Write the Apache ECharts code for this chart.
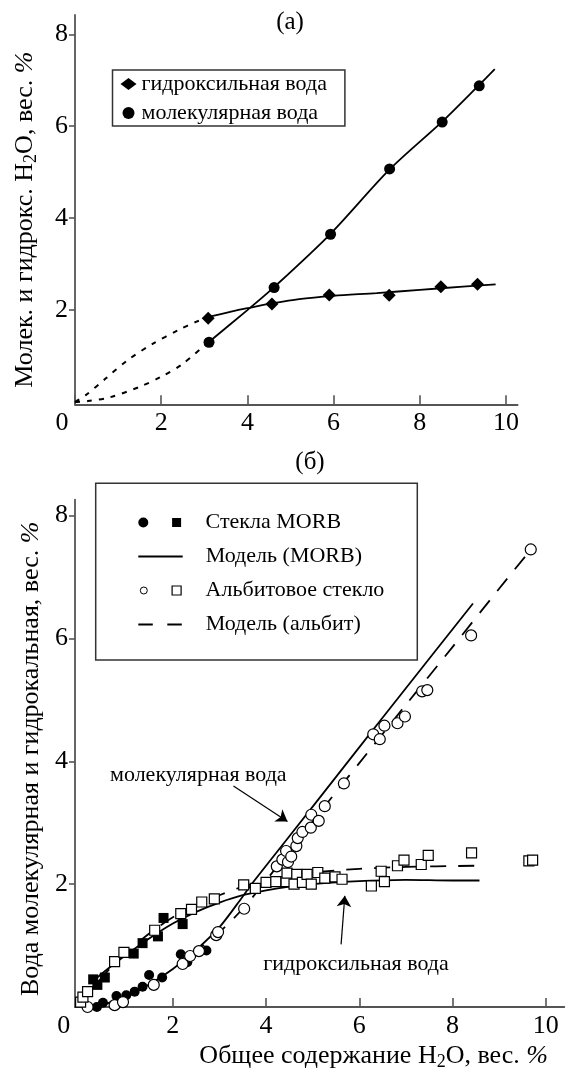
<!DOCTYPE html>
<html><head><meta charset="utf-8">
<script src="https://cdn.jsdelivr.net/npm/echarts@6/dist/echarts.min.js"></script>
<style>html,body{margin:0;padding:0;background:#fff}#c{width:569px;height:1072px}</style>
</head><body><div id="c"></div>
<script>
// ---------- Panel (а) ----------
const aTicksX = [0, 2, 4, 6, 8, 10];
const aTicksY = [2, 4, 6, 8];
const aHydroxyl = [[3.09,1.82],[4.57,2.13],[5.90,2.33],[7.29,2.32],[8.49,2.51],[9.34,2.56]];
const aMolecular = [[3.11,1.30],[4.62,2.49],[5.93,3.65],[7.30,5.07],[8.52,6.09],[9.38,6.88]];
const aHydroxylFit = [[3.1,1.85],[3.6,1.96],[4.0,2.04],[4.6,2.15],[5.2,2.24],[6.0,2.31],[7.0,2.37],[8.0,2.44],[9.0,2.51],[9.76,2.56]];
const aMolecularFit = [[3.1,1.30],[4.0,2.0],[4.62,2.5],[5.93,3.66],[7.3,5.06],[8.52,6.1],[9.38,6.9],[9.74,7.24]];
const aHydroxylExtrap = [[0,0],[0.25,0.15],[0.71,0.51],[1.22,0.91],[1.81,1.27],[2.39,1.56],[2.82,1.75],[3.05,1.82]];
const aMolecularExtrap = [[0,0],[0.3,0.02],[0.8,0.1],[1.5,0.33],[2.0,0.55],[2.5,0.83],[3.05,1.27]];

// ---------- Panel (б) ----------
const bTicksX = [0, 2, 4, 6, 8, 10];
const bTicksY = [2, 4, 6, 8];
const bMorbMol = [[0.37,0.0],[0.50,0.07],[0.79,0.18],[1.00,0.19],[1.18,0.25],[1.35,0.33],[1.49,0.52],[1.77,0.48],[2.17,0.86],[2.31,0.73],[2.72,0.92]];
const bMorbOH = [[0.29,0.45],[0.38,0.36],[0.54,0.48],[1.16,0.87],[1.35,1.04],[1.68,1.15],[1.80,1.45],[2.21,1.35]];
const bAlbMol = [[0.17,0.0],[0.75,0.03],[0.93,0.08],[1.59,0.36],[2.21,0.70],[2.37,0.83],[2.56,0.91],[2.93,1.17],[2.97,1.22],[3.53,1.60],
  [4.23,2.29],[4.35,2.40],[4.47,2.36],[4.43,2.54],[4.54,2.45],[4.65,2.62],[4.68,2.75],[4.78,2.85],[4.96,2.92],[4.97,3.13],
  [5.13,3.03],[5.26,3.27],[5.67,3.64],[6.30,4.44],[6.44,4.36],[6.54,4.58],[6.82,4.62],[6.98,4.73],[7.35,5.14],[7.46,5.16],
  [8.40,6.05],[9.68,7.45]];
const bAlbOH = [[0.02,0.08],[0.07,0.16],[0.17,0.25],[0.75,0.74],[0.95,0.89],[1.61,1.25],[2.17,1.52],[2.40,1.59],[2.62,1.71],[2.89,1.76],
  [3.52,1.99],[3.77,1.93],[4.00,2.03],[4.21,2.04],[4.43,2.04],[4.45,2.18],[4.66,2.16],[4.60,2.00],[4.78,2.03],[4.88,2.16],
  [4.97,2.00],[5.11,2.19],[5.26,2.10],[5.48,2.12],[5.63,2.08],[6.26,1.97],[6.47,2.21],[6.54,2.04],[6.82,2.30],[6.96,2.39],
  [7.33,2.32],[7.48,2.47],[8.41,2.51],[9.64,2.38],[9.72,2.39]];
const bMorbMolModel = [[0.35,0.0],[0.6,0.06],[1.0,0.17],[1.5,0.37],[2.0,0.62],[2.5,0.93],[3.0,1.3],[3.5,1.8],[3.69,2.0],[4.5,2.78],[5.94,4.17],[7.0,5.19],[8.44,6.57]];
const bMorbOHModel = [[0.28,0.42],[0.6,0.62],[1.0,0.85],[1.5,1.12],[2.0,1.36],[2.5,1.55],[3.0,1.7],[3.5,1.82],[4.0,1.9],[4.5,1.96],[5.0,2.0],[5.5,2.03],[6.0,2.05],[7.0,2.07],[8.0,2.06],[8.58,2.06]];
const bAlbMolModel = [[2.4,0.85],[3.0,1.22],[3.5,1.6],[4.0,2.06],[4.5,2.55],[5.0,3.02],[5.5,3.5],[6.0,3.97],[7.0,4.92],[8.0,5.86],[9.0,6.81],[9.62,7.39]];
const bAlbOHModel = [[0.05,0.05],[0.5,0.5],[1.0,0.88],[1.5,1.2],[2.0,1.46],[2.5,1.66],[3.0,1.82],[3.5,1.96],[4.0,2.06],[4.5,2.14],[5.0,2.19],[6.0,2.25],[7.0,2.28],[8.5,2.3]];
const bArrowMol = [[3.30,3.60],[4.46,3.02]];
const bArrowOH = [[5.61,1.02],[5.69,1.81]];

const FONT = '"Liberation Serif", "Times New Roman", serif';
const AX = '#555';

function xAxisCfg(grid, min, max, ticks, zeroPad, extra) {
  return Object.assign({
    type: 'value', gridIndex: grid, min: min, max: max,
    axisLine: { show: true, onZero: false, lineStyle: { color: AX, width: 1.8 } },
    axisTick: { show: true, inside: true, length: 9, customValues: ticks, lineStyle: { color: AX, width: 1.6 } },
    axisLabel: { customValues: ticks, margin: 6, fontFamily: FONT, fontSize: 26, color: '#000',
      formatter: v => (v === 0 ? '{z|0}' : String(v)),
      rich: { z: { fontFamily: FONT, fontSize: 26, color: '#000', padding: [0, zeroPad, 0, 0] } } },
    splitLine: { show: false }
  }, extra || {});
}
function yAxisCfg(grid, min, max, ticks, extra) {
  return Object.assign({
    type: 'value', gridIndex: grid, min: min, max: max,
    axisLine: { show: true, onZero: false, lineStyle: { color: AX, width: 1.8 } },
    axisTick: { show: true, inside: false, length: 6, customValues: ticks, lineStyle: { color: AX, width: 1.6 } },
    axisLabel: { customValues: ticks, margin: 7, fontFamily: FONT, fontSize: 26, color: '#000' },
    splitLine: { show: false }
  }, extra || {});
}
const richName = {
  s: { fontFamily: FONT, fontSize: 18, color: '#000', padding: [12, 0, 0, 0] },
  i: { fontFamily: FONT, fontSize: 26, color: '#000', fontStyle: 'italic' }
};

const lineBase = (name, data, xi, type, extra) => Object.assign({
  name: name, type: 'line', xAxisIndex: xi, yAxisIndex: xi, data: data,
  symbol: 'none', smooth: 0.3, z: 2, silent: true,
  lineStyle: { color: '#000', width: 1.8, type: type },
  itemStyle: { color: '#000' }
}, extra || {});
const scat = (name, data, xi, symbol, size, filled, extra) => Object.assign({
  name: name, type: 'scatter', xAxisIndex: xi, yAxisIndex: xi, data: data,
  symbol: symbol, symbolSize: size, z: 4, silent: true,
  itemStyle: filled ? { color: '#000', opacity: 1 } : { color: '#fff', borderColor: '#000', borderWidth: 1.2, opacity: 1 }
}, extra || {});

const legendText = { fontFamily: FONT, fontSize: 22, color: '#000', lineHeight: 22 };

const option = {
  animation: false,
  backgroundColor: '#fff',
  grid: [
    { left: 75, top: 15, width: 442.6, height: 389.3 },
    { left: 75, top: 499.7, width: 489.3, height: 511.6 }
  ],
  xAxis: [
    xAxisCfg(0, 0, 10.27, aTicksX, 26),
    xAxisCfg(1, -0.1, 10.4, bTicksX, 32, {
      name: 'Общее содержание H{s|2}O, вес. {i|%}', nameLocation: 'middle', nameGap: 34,
      nameTextStyle: { fontFamily: FONT, fontSize: 26, color: '#000', padding: [0, 0, 0, 108], rich: richName }
    })
  ],
  yAxis: [
    yAxisCfg(0, -0.05, 8.42, aTicksY, {
      name: 'Молек. и гидрокс. H{s|2}O, вес. {i|%}', nameLocation: 'middle', nameGap: 35,
      nameTextStyle: { fontFamily: FONT, fontSize: 26, color: '#000', padding: [0, 20, 0, 0], rich: richName }
    }),
    yAxisCfg(1, 0, 8.26, bTicksY, {
      name: 'Вода молекулярная и гидрокальная, вес. {i|%}', nameLocation: 'middle', nameGap: 31,
      nameTextStyle: { fontFamily: FONT, fontSize: 26, color: '#000', padding: [0, 11, 0, 0], rich: richName }
    })
  ],
  legend: [
    { data: ['гидроксильная вода', 'молекулярная вода'], orient: 'vertical', left: 112.5, top: 70,
      itemWidth: 16, itemHeight: 12, itemGap: 7, padding: [3, 18, 2, 8], selectedMode: false,
      borderColor: '#333', borderWidth: 1.5, textStyle: legendText },
    { data: ['morbMol'], orient: 'vertical', left: 138.3, top: 511.5, itemWidth: 10, itemHeight: 10,
      padding: 0, selectedMode: false, formatter: () => ' ', textStyle: legendText },
    { data: ['albMol'], orient: 'vertical', left: 139.8, top: 579.5, itemWidth: 7, itemHeight: 7,
      padding: 0, selectedMode: false, formatter: () => ' ', textStyle: legendText,
      itemStyle: { borderWidth: 1 } },
    { data: ['Стекла MORB', 'Альбитовое стекло'], orient: 'vertical', left: 171.5, top: 511.5,
      itemWidth: 9, itemHeight: 9, itemGap: 46, padding: 0, selectedMode: false,
      textStyle: Object.assign({ padding: [0, 0, 0, 19.5] }, legendText),
      itemStyle: { borderWidth: 1.2 } },
    { data: ['Модель (MORB)', { name: 'Модель (альбит)', lineStyle: { type: [14.5, 14.5] } }],
      orient: 'vertical', left: 137.3, top: 545.5,
      itemWidth: 44.4, itemHeight: 9, itemGap: 46, padding: 0, selectedMode: false,
      textStyle: Object.assign({ padding: [0, 0, 0, 18] }, legendText),
      itemStyle: { color: 'rgba(0,0,0,0)', borderWidth: 0, opacity: 0 } }
  ],
  graphic: [
    { type: 'rect', shape: { x: 95.7, y: 483.3, width: 321.6, height: 176.7 },
      style: { fill: 'none', stroke: '#333', lineWidth: 1.5 }, z: 1, silent: true },
    { type: 'text', x: 290, y: 22, style: { text: '(а)', font: '25px ' + FONT, fill: '#000', textAlign: 'center', textVerticalAlign: 'middle' } },
    { type: 'text', x: 310, y: 462, style: { text: '(б)', font: '25px ' + FONT, fill: '#000', textAlign: 'center', textVerticalAlign: 'middle' } },
    { type: 'text', x: 110, y: 775, style: { text: 'молекулярная вода', font: '22px ' + FONT, fill: '#000', textAlign: 'left', textVerticalAlign: 'middle' } },
    { type: 'text', x: 356, y: 964, style: { text: 'гидроксильная вода', font: '22px ' + FONT, fill: '#000', textAlign: 'center', textVerticalAlign: 'middle' } }
  ],
  series: [
    lineBase('aOHfit', aHydroxylFit, 0, 'solid'),
    lineBase('aMolfit', aMolecularFit, 0, 'solid'),
    lineBase('aOHext', aHydroxylExtrap, 0, [5, 7], { lineStyle: { color: '#000', width: 2, type: [5, 7] } }),
    lineBase('aMolext', aMolecularExtrap, 0, [5, 7], { lineStyle: { color: '#000', width: 2, type: [5, 7] } }),
    scat('гидроксильная вода', aHydroxyl, 0, 'diamond', 13, true),
    scat('молекулярная вода', aMolecular, 0, 'circle', 11, true),

    lineBase('Модель (MORB)', bMorbMolModel, 1, 'solid'),
    lineBase('bMorbOHModel', bMorbOHModel, 1, 'solid', {
      markLine: {
        silent: true, animation: false, symbol: ['none', 'arrow'], symbolSize: 11,
        lineStyle: { color: '#000', width: 1.2, type: 'solid' }, label: { show: false },
        data: [
          [{ coord: bArrowMol[0] }, { coord: bArrowMol[1] }],
          [{ coord: bArrowOH[0] }, { coord: bArrowOH[1] }]
        ]
      }
    }),
    lineBase('Модель (альбит)', bAlbMolModel, 1, [16, 12]),
    lineBase('bAlbOHModel', bAlbOHModel, 1, [16, 12]),
    scat('morbMol', bMorbMol, 1, 'circle', 10, true),
    scat('Стекла MORB', bMorbOH, 1, 'rect', 10, true),
    scat('albMol', bAlbMol, 1, 'circle', 11, false),
    scat('Альбитовое стекло', bAlbOH, 1, 'rect', 10, false)
  ]
};
const chart = echarts.init(document.getElementById('c'), null, { renderer: 'canvas' });
chart.setOption(option);
</script></body></html>
